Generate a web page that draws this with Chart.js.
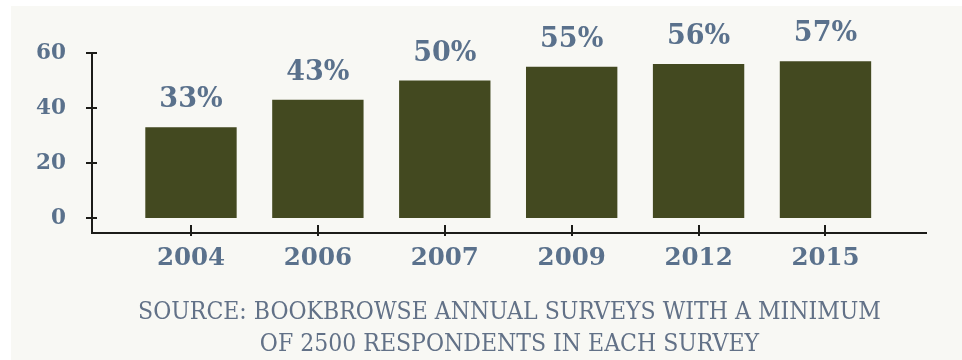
<!DOCTYPE html>
<html>
<head>
<meta charset="utf-8">
<script src="https://cdn.jsdelivr.net/npm/chart.js@4.4.1/dist/chart.umd.min.js"></script>
<style>
  html, body { margin: 0; padding: 0; background: #ffffff; }
  #wrap { position: relative; width: 962px; height: 360px; overflow: hidden; }
  #panel { position: absolute; left: 11px; top: 6px; right: 0; bottom: 0; background: #f8f8f4; }
  #c { position: absolute; left: 0; top: 0; }
</style>
</head>
<body>
<div id="wrap">
  <div id="panel"></div>
  <canvas id="c" width="962" height="360"></canvas>
</div>
<script>
// ---- data ----
const categories = ['2004', '2006', '2007', '2009', '2012', '2015'];
const shares = [33, 43, 50, 55, 56, 57];
const yTickValues = [0, 20, 40, 60];
const footnoteLines = [
  'SOURCE: BOOKBROWSE ANNUAL SURVEYS WITH A MINIMUM',
  'OF 2500 RESPONDENTS IN EACH SURVEY'
];

// ---- styling ----
const BAR_COLOR = '#434920';
const TEXT_COLOR = '#5a718c';
const NOTE_COLOR = '#627187';
const AXIS_COLOR = '#1c1c18';
const SERIF = "'DejaVu Serif', serif";
const SERIF_COND = "'DejaVu Serif Condensed', 'DejaVu Serif', serif";

const axisTicksPlugin = {
  id: 'axisTicks',
  afterDraw(chart) {
    const ctx = chart.ctx;
    const xs = chart.scales.x, ys = chart.scales.y;
    ctx.save();
    ctx.strokeStyle = AXIS_COLOR;
    ctx.lineWidth = 2;
    ctx.beginPath();
    ctx.moveTo(ys.right, ys.getPixelForValue(yTickValues[yTickValues.length - 1]));
    ctx.lineTo(ys.right, xs.top);
    ctx.stroke();
    ctx.beginPath();
    ctx.moveTo(xs.left - 1, xs.top);
    ctx.lineTo(xs.right, xs.top);
    ctx.stroke();
    yTickValues.forEach(v => {
      const y = Math.round(ys.getPixelForValue(v));
      ctx.beginPath();
      ctx.moveTo(ys.right - 6, y);
      ctx.lineTo(ys.right + 5, y);
      ctx.stroke();
    });
    categories.forEach((_, i) => {
      const x = Math.round(xs.getPixelForValue(i));
      ctx.beginPath();
      ctx.moveTo(x, xs.top - 8);
      ctx.lineTo(x, xs.top + 3);
      ctx.stroke();
    });
    ctx.restore();
  }
};

const valueLabelPlugin = {
  id: 'valueLabels',
  afterDatasetsDraw(chart) {
    const ctx = chart.ctx;
    const meta = chart.getDatasetMeta(0);
    ctx.save();
    ctx.fillStyle = TEXT_COLOR;
    ctx.font = "bold 27px " + SERIF;
    ctx.textAlign = 'center';
    ctx.textBaseline = 'middle';
    meta.data.forEach((bar, i) => {
      ctx.fillText(shares[i] + '%', bar.x, bar.y - 27);
    });
    ctx.restore();
  }
};

const footnotePlugin = {
  id: 'footnote',
  afterDraw(chart) {
    const ctx = chart.ctx;
    const a = chart.chartArea;
    ctx.save();
    ctx.fillStyle = NOTE_COLOR;
    ctx.font = "24.5px " + SERIF_COND;
    ctx.textAlign = 'center';
    ctx.textBaseline = 'middle';
    const cx = (a.left + a.right) / 2;
    footnoteLines.forEach((line, i) => {
      ctx.fillText(line, cx, a.bottom + 80 + i * 32);
    });
    ctx.restore();
  }
};

new Chart(document.getElementById('c'), {
  type: 'bar',
  data: {
    datasets: [{
      data: categories.map((_, i) => ({ x: i, y: shares[i] })),
      backgroundColor: BAR_COLOR,
      borderWidth: 0,
      barPercentage: 0.72,
      categoryPercentage: 1.0
    }]
  },
  options: {
    responsive: false,
    animation: false,
    events: [],
    layout: { padding: { top: 53, right: 35, bottom: 0, left: 0 } },
    plugins: { legend: { display: false }, tooltip: { enabled: false } },
    scales: {
      x: {
        type: 'linear',
        offset: false,
        min: -0.78,
        max: 5.8,
        grid: { display: false, drawTicks: false, offset: false },
        border: { display: false },
        afterBuildTicks(scale) { scale.ticks = categories.map((_, i) => ({ value: i })); },
        afterFit(scale) { scale.height = 127; },
        ticks: {
          autoSkip: false,
          maxRotation: 0,
          padding: 11,
          color: TEXT_COLOR,
          font: { family: SERIF, size: 24.5, weight: 'bold' },
          callback: (v) => categories[v]
        }
      },
      y: {
        min: -5.45,
        max: 60,
        grid: { display: false, drawTicks: false },
        border: { display: false },
        afterBuildTicks(scale) { scale.ticks = yTickValues.map(v => ({ value: v })); },
        afterFit(scale) { scale.width = 92; },
        ticks: {
          padding: 26,
          color: TEXT_COLOR,
          font: { family: SERIF, size: 21.5, weight: 'bold' }
        }
      }
    }
  },
  plugins: [axisTicksPlugin, valueLabelPlugin, footnotePlugin]
});
</script>
</body>
</html>
